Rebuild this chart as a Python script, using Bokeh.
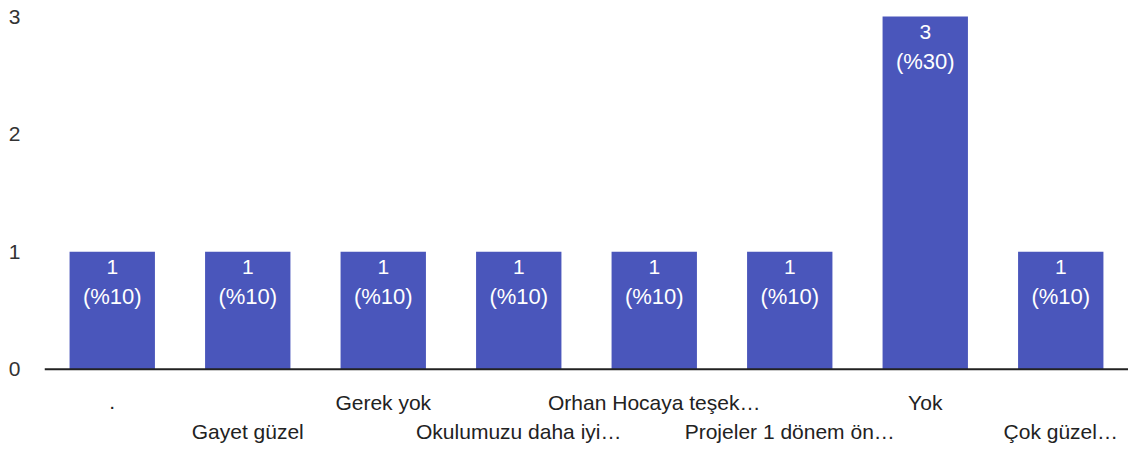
from bokeh.plotting import figure
from bokeh.models import ColumnDataSource, Range1d, FixedTicker, Span
from bokeh.core.properties import value
from bokeh.embed import file_html
from bokeh.resources import INLINE

categories = [".", "Gayet güzel", "Gerek yok", "Okulumuzu daha iyi…",
              "Orhan Hocaya teşek…", "Projeler 1 dönem ön…", "Yok", "Çok güzel…"]
counts = [1, 1, 1, 1, 1, 1, 3, 1]
percents = [10, 10, 10, 10, 10, 10, 30, 10]
y_ticks = [0, 1, 2, 3]

FONT = "Liberation Sans"
BAR_COLOR = "#4a56bb"

src = ColumnDataSource(dict(
    cat=categories,
    count=counts,
    count_txt=[str(c) for c in counts],
    pct_txt=["(%{})".format(p) for p in percents],
    zero=[0] * len(categories),
    lab_off=[33 if i % 2 == 0 else 62 for i in range(len(categories))],
))

p = figure(x_range=categories, y_range=Range1d(-0.656, 3.06),
           width=1128, height=446, output_backend="svg", toolbar_location=None,
           x_axis_location=None, min_border_left=44, min_border_right=0,
           min_border_top=9, min_border_bottom=0)
p.outline_line_color = None
p.xgrid.visible = False
p.ygrid.visible = False
p.x_range.range_padding = 0

p.vbar(x="cat", top="count", bottom=0, width=0.63, source=src,
       fill_color=BAR_COLOR, line_color=None)

p.add_layout(Span(location=0, dimension="width", line_color="#222222", line_width=2))

p.text(x="cat", y="count", text="count_txt", source=src, y_offset=15,
       text_align="center", text_baseline="middle", text_color="white",
       text_font=value(FONT), text_font_size="21px")
p.text(x="cat", y="count", text="pct_txt", source=src, y_offset=45,
       text_align="center", text_baseline="middle", text_color="white",
       text_font=value(FONT), text_font_size="22px")

p.text(x="cat", y="zero", text="cat", source=src, y_offset="lab_off",
       text_align="center", text_baseline="middle", text_color="#222222",
       text_font=value(FONT), text_font_size="21px")

ax = p.yaxis[0]
ax.ticker = FixedTicker(ticks=y_ticks)
ax.axis_line_color = None
ax.major_tick_line_color = None
ax.minor_tick_line_color = None
ax.major_label_standoff = 18
ax.major_label_text_font = FONT
ax.major_label_text_font_size = "21px"
ax.major_label_text_color = "#333333"

open("out.html", "w").write(file_html(p, INLINE))
